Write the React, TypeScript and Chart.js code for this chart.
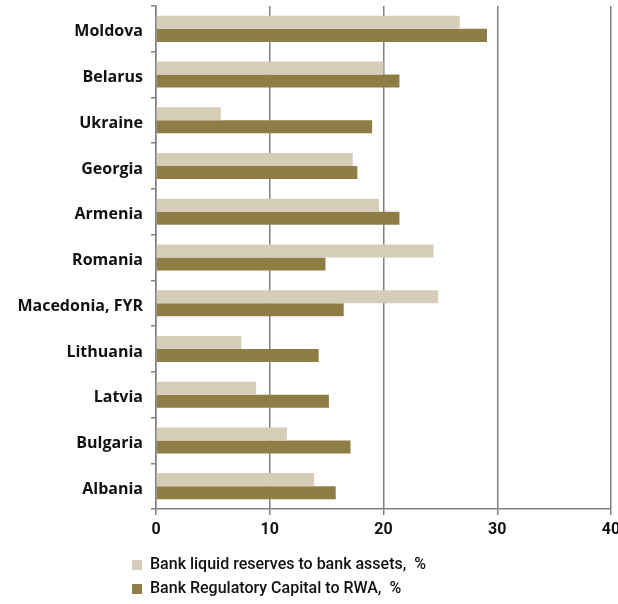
import React, { useEffect, useRef } from "react";
import { Chart, registerables } from "chart.js";

Chart.register(...registerables);

const categories = [
  "Moldova",
  "Belarus",
  "Ukraine",
  "Georgia",
  "Armenia",
  "Romania",
  "Macedonia, FYR",
  "Lithuania",
  "Latvia",
  "Bulgaria",
  "Albania",
];
const liquidReserves = [26.7, 20.0, 5.7, 17.3, 19.6, 24.4, 24.8, 7.5, 8.8, 11.5, 13.9];
const regulatoryCapital = [29.1, 21.4, 19.0, 17.7, 21.4, 14.9, 16.5, 14.3, 15.2, 17.1, 15.8];
const xTicks = [0, 10, 20, 30, 40];

const seriesNames = ["Bank liquid reserves to bank assets,  %", "Bank Regulatory Capital to RWA,  %"];

const LIGHT = "#d6cdb8";
const DARK = "#8f7d46";
const GRID = "#808080";
const FONT = "Roboto, 'DejaVu Sans', sans-serif";
const LABEL_FONT = "'Open Sans', Roboto, sans-serif";

export default function App() {
  const ref = useRef<HTMLCanvasElement | null>(null);

  useEffect(() => {
    if (!ref.current) return;
    const legendShift = {
      id: "legendShift",
      beforeLayout(chart: any) {
        const lg = chart.legend;
        if (lg && !lg._patched) {
          const orig = lg.update.bind(lg);
          lg.update = (w: number, h: number, m: any) => orig(Math.min(w, 400), h, m);
          lg._patched = true;
        }
      },
      beforeDraw(chart: any) {
        const lg = chart.legend;
        if (lg) {
          const pad = lg.options.labels.padding;
          lg.left = 132 - pad;
          lg.right = lg.left + 340;
        }
      },
    };
    const chart = new Chart(ref.current, {
      type: "bar",
      data: {
        labels: categories,
        datasets: [
          {
            label: seriesNames[0],
            data: liquidReserves,
            backgroundColor: LIGHT,
            categoryPercentage: 0.57,
            barPercentage: 1.0,
          },
          {
            label: seriesNames[1],
            data: regulatoryCapital,
            backgroundColor: DARK,
            categoryPercentage: 0.57,
            barPercentage: 1.0,
          },
        ],
      },
      plugins: [legendShift],
      options: {
        indexAxis: "y",
        responsive: false,
        animation: false,
        devicePixelRatio: 1,
        layout: { padding: { top: 6, right: 7, bottom: -3, left: 0 } },
        plugins: {
          tooltip: { enabled: false },
          legend: {
            position: "bottom",
            align: "start",
            labels: {
              boxWidth: 10,
              boxHeight: 10,
              padding: 8,
              color: "#111",
              font: { family: FONT, size: 16, weight: "500" },
            },
          },
        },
        scales: {
          x: {
            min: 0,
            max: 40,
            afterBuildTicks(scale: any) {
              scale.ticks = xTicks.map((v) => ({ value: v }));
            },
            afterFit(scale: any) {
              scale.paddingRight = 0;
              scale.paddingLeft = 0;
              scale.height = 40;
            },
            grid: {
              color: GRID,
              lineWidth: 1.5,
              tickLength: 6,
              drawTicks: true,
            },
            border: { color: GRID, width: 1.5 },
            ticks: {
              padding: 5,
              color: "#111",
              font: { family: FONT, size: 16, weight: "bold" },
            },
          },
          y: {
            afterFit(scale: any) {
              scale.width = 156;
              scale.paddingTop = 0;
              scale.paddingBottom = 0;
            },
            grid: {
              offset: true,
              drawOnChartArea: false,
              drawTicks: true,
              tickLength: 5,
              color: GRID,
              lineWidth: 1.5,
            },
            border: { color: GRID, width: 1.5 },
            ticks: {
              padding: 8,
              labelOffset: 3,
              color: "#111",
              font: { family: LABEL_FONT, size: 16, weight: "bold" },
            },
          },
        },
      },
    });
    return () => chart.destroy();
  }, []);

  return (
    <div style={{ position: "absolute", left: 0, top: 0, width: 618, height: 604, overflow: "hidden", background: "#fff" }}>
      <canvas ref={ref} width={618} height={604} style={{ display: "block" }} />
    </div>
  );
}
